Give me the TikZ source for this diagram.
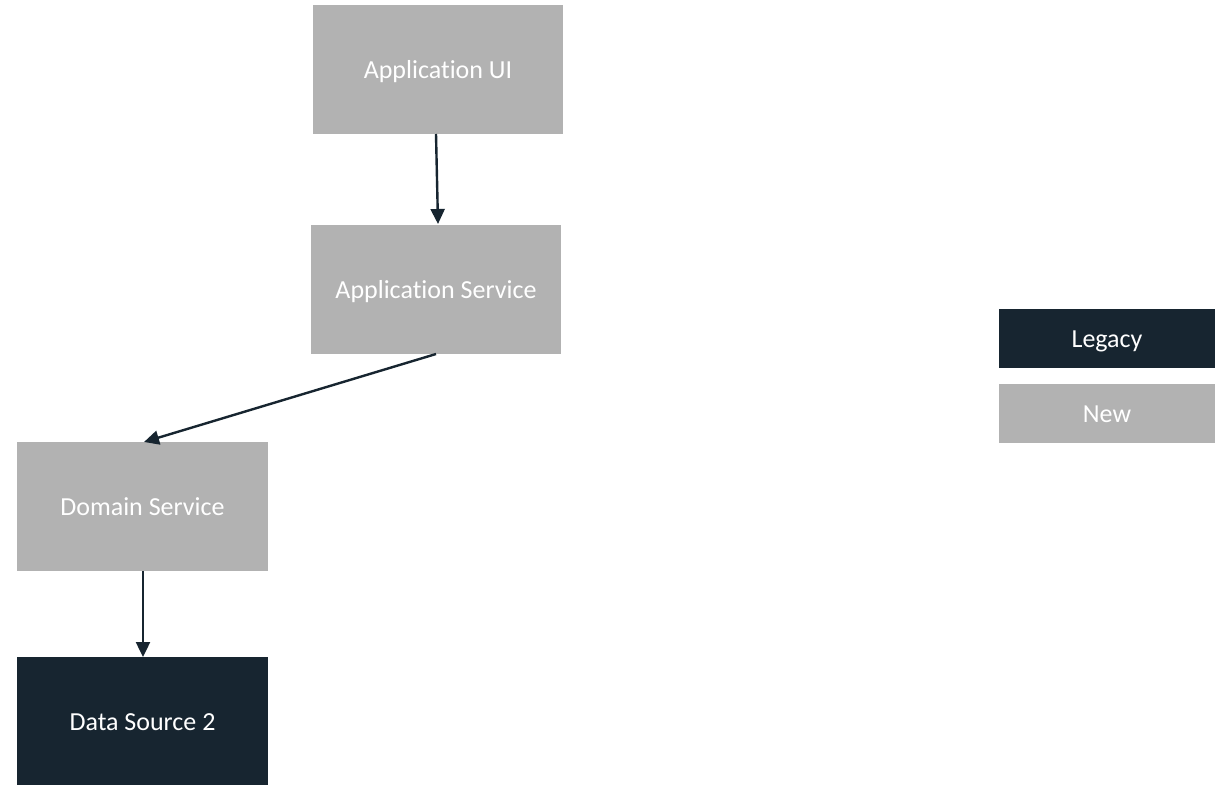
\documentclass[tikz,border=0pt]{standalone}
\usepackage{fontspec}
\setmainfont{Carlito}[Ligatures=NoCommon]
\usetikzlibrary{arrows.meta}
\definecolor{newgray}{HTML}{B2B2B2}
\definecolor{legacydark}{HTML}{172530}
\tikzset{
  box/.style={rectangle, inner sep=0pt, draw=none, text=white,
    font=\fontsize{26}{30}\selectfont, text height=22pt, text depth=4pt},
  newbox/.style={box, fill=newgray},
  legacybox/.style={box, fill=legacydark},
  link/.style={draw=legacydark, line width=2.4pt, -{Triangle[length=15pt,width=14pt]}}
}
\begin{document}
\begin{tikzpicture}[x=1pt,y=-1pt]
  \useasboundingbox (0,0) rectangle (1225,785);
  % layered components
  \node[newbox, minimum width=250pt, minimum height=129pt] (ui) at (438,69.5) {Application UI};
  \node[newbox, minimum width=250pt, minimum height=129pt] (appsvc) at (436,289.5) {Application Service};
  \node[newbox, minimum width=251pt, minimum height=129pt] (domsvc) at (142.5,506.5) {Domain Service};
  \node[legacybox, minimum width=251pt, minimum height=128pt] (ds2) at (142.5,721) {Data Source 2};
  % legend
  \node[legacybox, minimum width=216pt, minimum height=59pt] (legacy) at (1107,338.5) {Legacy};
  \node[newbox, minimum width=216pt, minimum height=59pt] (new) at (1107,413.5) {New};
  % dependencies
  \coordinate (uiout) at (436,134);
  \coordinate (appin) at (438,224);
  \draw[link] (uiout) -- (appin);
  \coordinate (appout) at (436,354);
  \coordinate (domin) at (144,442);
  \draw[link] (appout) -- (domin);
  \coordinate (domout) at (143,571);
  \coordinate (dsin) at (143,657);
  \draw[link] (domout) -- (dsin);
\end{tikzpicture}
\end{document}
